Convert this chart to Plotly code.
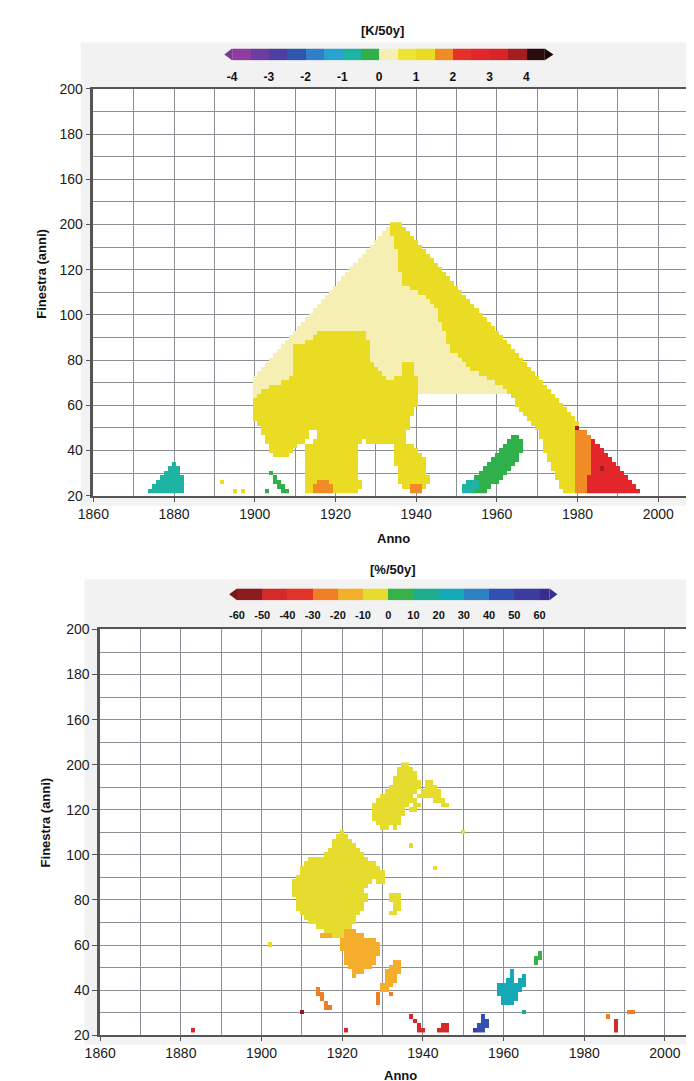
import numpy as np
import plotly.graph_objects as go

W, H = 694, 1081

# ---------------- data ----------------
YEARS = list(range(1860, 2011))

# Top panel: temperature trend [K/50y]
# key = window length (anni), row centre; value = list of (first year, last year, class)
TOP_STEP = 2
top_rows = {
    140: [(1934, 1936, "Y")],
    138: [(1933, 1933, "P"), (1934, 1937, "Y")],
    136: [(1932, 1933, "P"), (1934, 1938, "Y")],
    134: [(1931, 1934, "P"), (1935, 1939, "Y")],
    132: [(1930, 1934, "P"), (1935, 1940, "Y")],
    130: [(1929, 1934, "P"), (1935, 1941, "Y")],
    128: [(1928, 1935, "P"), (1936, 1942, "Y")],
    126: [(1927, 1935, "P"), (1936, 1943, "Y")],
    124: [(1926, 1935, "P"), (1936, 1944, "Y")],
    122: [(1925, 1935, "P"), (1936, 1945, "Y")],
    120: [(1924, 1935, "P"), (1936, 1946, "Y")],
    118: [(1923, 1936, "P"), (1937, 1947, "Y")],
    116: [(1922, 1936, "P"), (1937, 1948, "Y")],
    114: [(1921, 1936, "P"), (1937, 1949, "Y")],
    112: [(1920, 1938, "P"), (1939, 1950, "Y")],
    110: [(1919, 1940, "P"), (1941, 1951, "Y")],
    108: [(1918, 1942, "P"), (1943, 1952, "Y")],
    106: [(1917, 1943, "P"), (1944, 1953, "Y")],
    104: [(1916, 1944, "P"), (1945, 1954, "Y")],
    102: [(1915, 1945, "P"), (1946, 1955, "Y")],
    100: [(1914, 1945, "P"), (1946, 1956, "Y")],
    98: [(1913, 1945, "P"), (1946, 1957, "Y")],
    96: [(1912, 1946, "P"), (1947, 1958, "Y")],
    94: [(1911, 1946, "P"), (1947, 1959, "Y")],
    92: [(1910, 1915, "P"), (1916, 1927, "Y"), (1928, 1947, "P"), (1948, 1960, "Y")],
    90: [(1909, 1914, "P"), (1915, 1927, "Y"), (1928, 1947, "P"), (1948, 1961, "Y")],
    88: [(1908, 1912, "P"), (1913, 1928, "Y"), (1929, 1947, "P"), (1948, 1962, "Y")],
    86: [(1907, 1909, "P"), (1910, 1928, "Y"), (1929, 1948, "P"), (1949, 1963, "Y")],
    84: [(1906, 1909, "P"), (1910, 1928, "Y"), (1929, 1948, "P"), (1949, 1964, "Y")],
    82: [(1905, 1909, "P"), (1910, 1928, "Y"), (1929, 1950, "P"), (1951, 1965, "Y")],
    80: [(1904, 1909, "P"), (1910, 1928, "Y"), (1929, 1951, "P"), (1952, 1966, "Y")],
    78: [(1903, 1909, "P"), (1910, 1929, "Y"), (1930, 1936, "P"), (1937, 1939, "Y"),
         (1940, 1952, "P"), (1953, 1967, "Y")],
    76: [(1902, 1909, "P"), (1910, 1930, "Y"), (1931, 1936, "P"), (1937, 1939, "Y"),
         (1940, 1953, "P"), (1954, 1968, "Y")],
    74: [(1901, 1909, "P"), (1910, 1931, "Y"), (1932, 1936, "P"), (1937, 1939, "Y"),
         (1940, 1955, "P"), (1956, 1969, "Y")],
    72: [(1900, 1908, "P"), (1909, 1932, "Y"), (1933, 1934, "P"), (1935, 1940, "Y"),
         (1941, 1957, "P"), (1958, 1970, "Y")],
    70: [(1900, 1906, "P"), (1907, 1940, "Y"), (1941, 1959, "P"), (1960, 1971, "Y")],
    68: [(1900, 1903, "P"), (1904, 1940, "Y"), (1941, 1961, "P"), (1962, 1972, "Y")],
    66: [(1900, 1901, "P"), (1902, 1940, "Y"), (1941, 1962, "P"), (1963, 1973, "Y")],
    64: [(1900, 1900, "P"), (1901, 1940, "Y"), (1964, 1974, "Y")],
    62: [(1900, 1940, "Y"), (1965, 1975, "Y")],
    60: [(1900, 1940, "Y"), (1965, 1976, "Y")],
    58: [(1900, 1939, "Y"), (1966, 1977, "Y")],
    56: [(1900, 1939, "Y"), (1967, 1978, "Y")],
    54: [(1900, 1938, "Y"), (1968, 1979, "Y")],
    52: [(1901, 1938, "Y"), (1969, 1980, "Y")],
    50: [(1902, 1938, "Y"), (1970, 1979, "Y"), (1980, 1980, "D")],
    48: [(1902, 1913, "Y"), (1916, 1937, "Y"), (1971, 1979, "Y"), (1980, 1982, "O")],
    46: [(1903, 1913, "Y"), (1916, 1937, "Y"), (1964, 1965, "G"), (1971, 1979, "Y"),
         (1980, 1983, "O")],
    44: [(1903, 1912, "Y"), (1915, 1926, "Y"), (1928, 1937, "Y"), (1963, 1966, "G"),
         (1972, 1979, "Y"), (1980, 1983, "O"), (1984, 1984, "R")],
    42: [(1904, 1910, "Y"), (1913, 1925, "Y"), (1935, 1939, "Y"), (1962, 1966, "G"),
         (1972, 1979, "Y"), (1980, 1983, "O"), (1984, 1985, "R")],
    40: [(1904, 1909, "Y"), (1913, 1925, "Y"), (1935, 1940, "Y"), (1961, 1966, "G"),
         (1972, 1979, "Y"), (1980, 1983, "O"), (1984, 1986, "R")],
    38: [(1905, 1908, "Y"), (1913, 1925, "Y"), (1935, 1941, "Y"), (1960, 1965, "G"),
         (1973, 1979, "Y"), (1980, 1983, "O"), (1984, 1987, "R")],
    36: [(1913, 1925, "Y"), (1935, 1942, "Y"), (1959, 1965, "G"), (1973, 1979, "Y"),
         (1980, 1983, "O"), (1984, 1988, "R")],
    34: [(1880, 1880, "T"), (1913, 1925, "Y"), (1935, 1942, "Y"), (1958, 1964, "G"),
         (1974, 1979, "Y"), (1980, 1983, "O"), (1984, 1989, "R")],
    32: [(1879, 1881, "T"), (1913, 1925, "Y"), (1936, 1942, "Y"), (1957, 1963, "G"),
         (1974, 1979, "Y"), (1980, 1983, "O"), (1984, 1985, "R"), (1986, 1986, "D"),
         (1987, 1990, "R")],
    30: [(1878, 1881, "T"), (1904, 1904, "G"), (1913, 1925, "Y"), (1936, 1942, "Y"),
         (1956, 1962, "G"), (1975, 1979, "Y"), (1980, 1983, "O"), (1984, 1991, "R")],
    28: [(1877, 1882, "T"), (1905, 1905, "G"), (1913, 1925, "Y"), (1936, 1943, "Y"),
         (1955, 1961, "G"), (1975, 1979, "Y"), (1980, 1982, "O"), (1983, 1992, "R")],
    26: [(1876, 1882, "T"), (1892, 1892, "Y"), (1905, 1906, "G"), (1913, 1915, "Y"),
         (1916, 1918, "O"), (1919, 1926, "Y"), (1936, 1943, "Y"), (1953, 1955, "T"),
         (1956, 1960, "G"), (1976, 1979, "Y"), (1980, 1982, "O"), (1983, 1993, "R")],
    24: [(1875, 1882, "T"), (1906, 1907, "G"), (1913, 1914, "Y"), (1915, 1919, "O"),
         (1920, 1926, "Y"), (1937, 1938, "Y"), (1939, 1941, "O"), (1942, 1942, "Y"),
         (1952, 1955, "T"), (1956, 1958, "G"), (1976, 1979, "Y"), (1980, 1982, "O"),
         (1983, 1994, "R")],
    22: [(1874, 1882, "T"), (1895, 1895, "Y"), (1897, 1897, "Y"), (1903, 1903, "G"),
         (1907, 1908, "G"), (1913, 1914, "Y"), (1915, 1919, "O"), (1920, 1925, "Y"),
         (1939, 1941, "O"), (1952, 1954, "T"), (1955, 1957, "G"), (1977, 1979, "Y"),
         (1980, 1982, "O"), (1983, 1995, "R")],
}
top_class = {"C": -1.25, "T": -0.75, "G": -0.25, "P": 0.25, "Y": 1.0,
             "O": 1.75, "R": 2.75, "D": 3.75}

# Bottom panel: precipitation trend [%/50y]
BOT_STEP = 2
bot_rows = {
    140: [(1935, 1936, "Y")],
    138: [(1934, 1937, "Y")],
    136: [(1934, 1938, "Y")],
    134: [(1933, 1938, "Y")],
    132: [(1933, 1939, "Y"), (1941, 1942, "Y")],
    130: [(1932, 1939, "Y"), (1941, 1943, "Y")],
    128: [(1931, 1938, "Y"), (1940, 1944, "Y")],
    126: [(1930, 1937, "Y"), (1939, 1944, "Y")],
    124: [(1929, 1938, "Y"), (1943, 1945, "Y")],
    122: [(1928, 1936, "Y"), (1938, 1939, "Y"), (1945, 1946, "Y")],
    120: [(1928, 1935, "Y"), (1937, 1938, "Y")],
    118: [(1928, 1935, "Y")],
    116: [(1928, 1934, "Y")],
    114: [(1929, 1934, "Y")],
    112: [(1930, 1931, "Y"), (1933, 1933, "Y")],
    110: [(1920, 1920, "Y"), (1950, 1950, "Y")],
    108: [(1919, 1921, "Y")],
    106: [(1918, 1922, "Y")],
    104: [(1918, 1923, "Y"), (1937, 1937, "Y")],
    102: [(1917, 1924, "Y")],
    100: [(1916, 1925, "Y")],
    98: [(1912, 1926, "Y")],
    96: [(1911, 1928, "Y")],
    94: [(1910, 1929, "Y"), (1943, 1943, "Y")],
    92: [(1910, 1930, "Y")],
    90: [(1909, 1930, "Y")],
    88: [(1908, 1927, "Y"), (1929, 1930, "Y")],
    86: [(1908, 1926, "Y")],
    84: [(1908, 1925, "Y")],
    82: [(1908, 1926, "Y"), (1932, 1934, "Y")],
    80: [(1909, 1926, "Y"), (1932, 1934, "Y")],
    78: [(1909, 1925, "Y"), (1933, 1934, "Y")],
    76: [(1909, 1925, "Y"), (1933, 1934, "Y")],
    74: [(1910, 1924, "Y"), (1932, 1933, "Y")],
    72: [(1911, 1923, "Y")],
    70: [(1912, 1923, "Y")],
    68: [(1914, 1922, "Y")],
    66: [(1916, 1920, "Y"), (1921, 1923, "OY")],
    64: [(1915, 1917, "OY"), (1918, 1920, "Y"), (1921, 1925, "OY")],
    62: [(1920, 1928, "OY")],
    60: [(1902, 1902, "Y"), (1920, 1929, "OY")],
    58: [(1920, 1929, "OY")],
    56: [(1921, 1929, "OY"), (1969, 1969, "G")],
    54: [(1921, 1928, "OY"), (1968, 1969, "G")],
    52: [(1921, 1928, "OY"), (1933, 1934, "OY"), (1968, 1968, "G")],
    50: [(1922, 1927, "OY"), (1932, 1934, "OY")],
    48: [(1923, 1925, "OY"), (1931, 1934, "OY"), (1962, 1962, "T")],
    46: [(1923, 1923, "OY"), (1931, 1933, "OY"), (1962, 1962, "T"), (1965, 1965, "T")],
    44: [(1931, 1933, "OY"), (1961, 1962, "T"), (1964, 1965, "T")],
    42: [(1930, 1932, "OY"), (1959, 1965, "T")],
    40: [(1914, 1914, "O"), (1930, 1931, "OY"), (1959, 1964, "T")],
    38: [(1914, 1915, "O"), (1929, 1929, "O"), (1932, 1932, "O"), (1959, 1963, "T")],
    36: [(1915, 1915, "O"), (1929, 1929, "O"), (1960, 1963, "T")],
    34: [(1916, 1916, "O"), (1929, 1929, "O"), (1960, 1962, "T")],
    32: [(1916, 1917, "O")],
    30: [(1910, 1910, "DR"), (1965, 1965, "TG"), (1991, 1992, "O")],
    28: [(1937, 1937, "R"), (1955, 1955, "B"), (1986, 1986, "O")],
    26: [(1938, 1938, "R"), (1955, 1956, "B"), (1988, 1988, "R")],
    24: [(1939, 1939, "R"), (1945, 1946, "R"), (1954, 1956, "B"), (1988, 1988, "R")],
    22: [(1883, 1883, "R"), (1921, 1921, "R"), (1939, 1940, "R"), (1944, 1946, "R"),
         (1953, 1953, "N"), (1954, 1955, "B"), (1988, 1988, "R")],
}
bot_class = {"DR": -55, "R": -45, "O": -25, "OY": -15, "Y": -5, "G": 5, "TG": 15,
             "T": 25, "B": 45, "N": 55}

x_tickvals = [1860, 1880, 1900, 1920, 1940, 1960, 1980, 2000]
y_tickvals = [20, 40, 60, 80, 100, 120, 140, 160, 180, 200]
y_ticktext = ["20", "40", "60", "80", "100", "120", "200", "160", "180", "200"]

top_cbar_ticks = [-4, -3, -2, -1, 0, 1, 2, 3, 4]
top_bins = [-4, -3.5, -3, -2.5, -2, -1.5, -1, -0.5, 0, 0.5, 1, 1.5, 2, 2.5, 3, 3.5, 4, 4.5]
top_colors = ["#8e3d9e", "#6b3da0", "#4a40a4", "#3055b0", "#2f80c8", "#28a3d0", "#1eb3a3",
              "#2fb04a", "#f6efb4", "#ede534", "#eadc22", "#f08b26", "#e6312b", "#e2262a",
              "#d92427", "#a61d1f", "#2a0c0c"]
bot_cbar_ticks = [-60, -50, -40, -30, -20, -10, 0, 10, 20, 30, 40, 50, 60]
bot_bins = [-60, -50, -40, -30, -20, -10, 0, 10, 20, 30, 40, 50, 60, 64]
bot_colors = ["#8b1c1f", "#d52a2a", "#e2332a", "#ef7f24", "#f4ae2b", "#e6dc2e", "#35b24a",
              "#1cae8c", "#15a9b8", "#2d82c6", "#3150b0", "#3c3c9e", "#3a2d90"]


# ---------------- helpers ----------------
def build_grid(rows, classes, step):
    centres = list(range(min(rows), max(rows) + 1, step))
    z = np.full((len(centres), len(YEARS)), np.nan)
    for w, segs in rows.items():
        i = centres.index(w)
        for a, b, c in segs:
            for yr in range(a, b + 1):
                z[i, yr - YEARS[0]] = classes[c]
    return centres, z


def discrete_scale(bins, colors):
    lo, hi = bins[0], bins[-1]
    sc = []
    for i, c in enumerate(colors):
        sc.append([(bins[i] - lo) / (hi - lo), c])
        sc.append([(bins[i + 1] - lo) / (hi - lo), c])
    return sc


def px(x):
    return x / W


def py(y):
    return 1 - y / H


FONT = "Liberation Sans, Arial, sans-serif"
GRID = "#8e8e96"
AXC = "#555555"

top_y, top_z = build_grid(top_rows, top_class, TOP_STEP)
bot_y, bot_z = build_grid(bot_rows, bot_class, BOT_STEP)

fig = go.Figure()
fig.add_trace(go.Heatmap(x=YEARS, y=top_y, z=top_z, coloraxis="coloraxis",
                         hoverinfo="skip", xaxis="x", yaxis="y"))
fig.add_trace(go.Heatmap(x=YEARS, y=bot_y, z=bot_z, coloraxis="coloraxis2",
                         hoverinfo="skip", xaxis="x2", yaxis="y2"))

# colour-bar strips (one cell per class bin), drawn on their own axes
top_mid = [[(a + b) / 2 for a, b in zip(top_bins[:-1], top_bins[1:])]]
bot_mid = [[(a + b) / 2 for a, b in zip(bot_bins[:-1], bot_bins[1:])]]
fig.add_trace(go.Heatmap(x=top_bins, y=[0, 1], z=top_mid, coloraxis="coloraxis",
                         hoverinfo="skip", xaxis="x3", yaxis="y3"))
fig.add_trace(go.Heatmap(x=bot_bins, y=[0, 1], z=bot_mid, coloraxis="coloraxis2",
                         hoverinfo="skip", xaxis="x4", yaxis="y4"))


def xaxis_cfg(domain, rng, anchor):
    return dict(domain=domain, range=rng, anchor=anchor, tickmode="array",
                tickvals=x_tickvals, ticks="outside", ticklen=4, tickcolor=AXC,
                showline=True, linecolor=AXC, linewidth=2, mirror=True,
                showgrid=True, gridcolor=GRID, gridwidth=1.2, zeroline=False,
                minor=dict(dtick=10, tick0=1860, showgrid=True, gridcolor=GRID,
                           gridwidth=1.2),
                tickfont=dict(family=FONT, size=14, color="#1a1a1a"))


def yaxis_cfg(domain, anchor):
    return dict(domain=domain, range=[20, 200], anchor=anchor, tickmode="array",
                tickvals=y_tickvals, ticktext=y_ticktext, ticks="outside", ticklen=5,
                tickcolor=AXC, showline=True, linecolor=AXC, linewidth=2.5,
                showgrid=True, gridcolor=GRID, gridwidth=1.2, zeroline=False,
                minor=dict(dtick=10, tick0=20, showgrid=True, gridcolor=GRID,
                           gridwidth=1.2),
                tickfont=dict(family=FONT, size=14, color="#1a1a1a"))


def cbar_x(domain, rng, anchor, ticks, size):
    return dict(domain=domain, range=rng, anchor=anchor, tickmode="array", tickvals=ticks,
                ticktext=["<b>%s</b>" % str(t) for t in ticks], ticks="outside",
                ticklen=5, tickcolor="rgba(0,0,0,0)", showgrid=False, showline=False,
                zeroline=False, fixedrange=True,
                tickfont=dict(family=FONT, size=size, color="#111111"))


def cbar_y(domain, anchor):
    return dict(domain=domain, range=[0, 1], anchor=anchor, visible=False, fixedrange=True)


shapes = [
    # light grey panels behind colour bars and plots
    dict(type="rect", xref="paper", yref="paper", x0=px(58), x1=1, y0=py(497), y1=py(27),
         fillcolor="#f2f2f2", line=dict(width=0), layer="below"),
    dict(type="rect", xref="paper", yref="paper", x0=px(71), x1=px(690.5), y0=py(487),
         y1=py(74), fillcolor="#ffffff", line=dict(width=0), layer="below"),
    dict(type="rect", xref="paper", yref="paper", x0=px(62), x1=1, y0=py(1044), y1=py(572),
         fillcolor="#f2f2f2", line=dict(width=0), layer="below"),
    dict(type="rect", xref="paper", yref="paper", x0=px(78), x1=1, y0=py(1034.5),
         y1=py(622.7), fillcolor="#ffffff", line=dict(width=0), layer="below"),
]


def arrow(x_base, x_tip, y_top, y_bot, color):
    ym = (y_top + y_bot) / 2
    path = "M {},{} L {},{} L {},{} Z".format(px(x_base), py(y_top), px(x_tip), py(ym),
                                               px(x_base), py(y_bot))
    return dict(type="path", xref="paper", yref="paper", path=path, fillcolor=color,
                line=dict(width=0))


shapes += [arrow(213, 205, 33, 45, "#7d3a95"), arrow(533, 542, 33, 45, "#1a0808"),
           arrow(218, 210, 581, 593, "#7a1818"), arrow(538, 546, 581, 593, "#3a2f92")]

ann = []


def label(text, x, y, size=13, angle=0):
    ann.append(dict(text="<b>%s</b>" % text, x=px(x), y=py(y), xref="paper", yref="paper",
                    showarrow=False, textangle=angle, xanchor="center", yanchor="middle",
                    font=dict(family=FONT, size=size, color="#111")))


label("[K/50y]", 367, 15)
label("Anno", 378, 530)
label("[%/50y]", 378, 562)
label("Anno", 385, 1075)
label("Finestra (anni)", 18, 262, angle=-90)
label("Finestra (anni)", 22, 818, angle=-90)

fig.update_layout(
    width=W, height=H, margin=dict(l=0, r=0, t=0, b=0),
    paper_bgcolor="#ffffff", plot_bgcolor="rgba(0,0,0,0)", showlegend=False,
    xaxis=xaxis_cfg([px(71), px(690.5)], [1860, 2010], "y"),
    yaxis=yaxis_cfg([py(487), py(74)], "x"),
    xaxis2=xaxis_cfg([px(78), 1.0], [1860, 2009.2], "y2"),
    yaxis2=yaxis_cfg([py(1034.5), py(622.7)], "x2"),
    xaxis3=cbar_x([px(213), px(533)], [top_bins[0], top_bins[-1]], "y3", top_cbar_ticks, 12),
    yaxis3=cbar_y([py(45), py(33)], "x3"),
    xaxis4=cbar_x([px(218), px(538)], [bot_bins[0], bot_bins[-1]], "y4", bot_cbar_ticks, 11),
    yaxis4=cbar_y([py(593), py(581)], "x4"),
    coloraxis=dict(cmin=top_bins[0], cmax=top_bins[-1], showscale=False,
                   colorscale=discrete_scale(top_bins, top_colors)),
    coloraxis2=dict(cmin=bot_bins[0], cmax=bot_bins[-1], showscale=False,
                    colorscale=discrete_scale(bot_bins, bot_colors)),
    shapes=shapes, annotations=ann,
)

fig.write_html("out.html")
